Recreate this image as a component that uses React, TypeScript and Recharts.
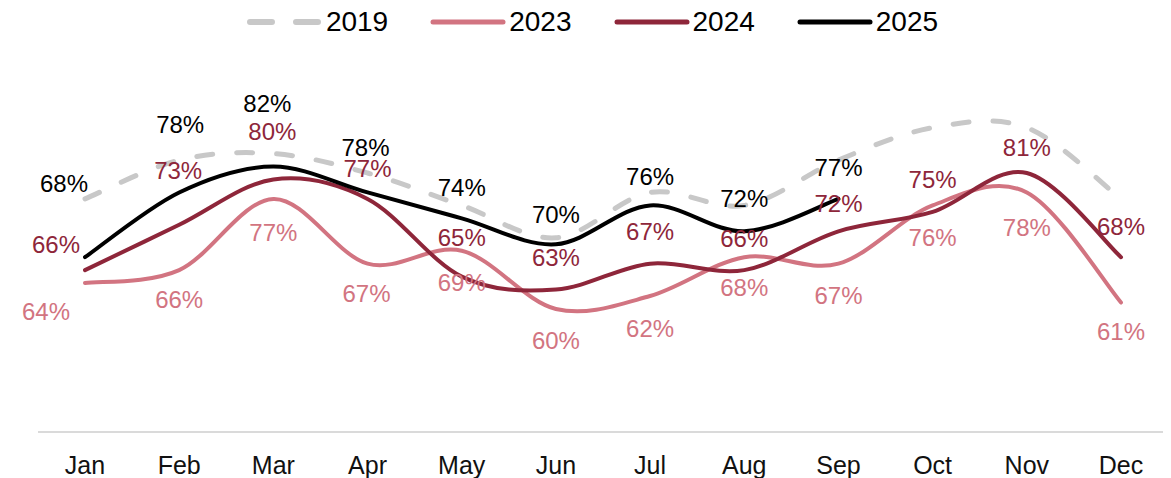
import React from 'react';
import { LineChart, Line, XAxis, YAxis } from 'recharts';

const months = ['Jan', 'Feb', 'Mar', 'Apr', 'May', 'Jun', 'Jul', 'Aug', 'Sep', 'Oct', 'Nov', 'Dec'];

const values2019 = [77, 83, 84, 81, 76, 71, 78, 76, 83, 88, 88, 77];
const values2023 = [64, 66, 77, 67, 69, 60, 62, 68, 67, 76, 78, 61];
const values2024 = [66, 73, 80, 77, 65, 63, 67, 66, 72, 75, 81, 68];
const values2025 = [68, 78, 82, 78, 74, 70, 76, 72, 77];

// label nudges (px)
const labelDy2023 = [28, 29, 34, 30, 32, 32, 32, 30, 32, 32, 35, 29];
const labelDx2023 = [-39, 0, 0, -1, 0, 0, 0, 0, 0, 0, 0, 0];
const labelDy2024 = [-26, -54, -48, -30, -39, -32, -32, -32, -28, -32, -26, -31];
const labelDx2024 = [-29, -1, -1, 0, 0, 0, 0, 0, 0, 0, 0, 0];
const labelDy2025 = [-74, -68, -63, -45, -31, -30, -29, -33, -31];
const labelDx2025 = [-21, 1, -6, -2, 0, 0, 0, 0, 0];

const FONT = '"Liberation Sans", Arial, sans-serif';

const data = months.map((m, i) => ({
  month: m,
  y2019: values2019[i],
  y2023: values2023[i],
  y2024: values2024[i],
  y2025: values2025[i] ?? null,
}));

const series = [
  { key: 'y2019', name: '2019', color: '#c8c8c8', dashed: true },
  { key: 'y2023', name: '2023', color: '#d27481', dashed: false },
  { key: 'y2024', name: '2024', color: '#8e263a', dashed: false },
  { key: 'y2025', name: '2025', color: '#000000', dashed: false },
];

// Excel-style smoothing (Catmull-Rom through the points)
function smoothCurve(context: any) {
  let pts: number[][] = [];
  return {
    areaStart() {},
    areaEnd() {},
    lineStart() {
      pts = [];
    },
    point(x: number, y: number) {
      pts.push([+x, +y]);
    },
    lineEnd() {
      const n = pts.length;
      if (!n) return;
      context.moveTo(pts[0][0], pts[0][1]);
      for (let i = 0; i < n - 1; i++) {
        const p0 = pts[i - 1] || pts[i];
        const p1 = pts[i];
        const p2 = pts[i + 1];
        const p3 = pts[i + 2] || p2;
        context.bezierCurveTo(
          p1[0] + (p2[0] - p0[0]) / 6,
          p1[1] + (p2[1] - p0[1]) / 6,
          p2[0] - (p3[0] - p1[0]) / 6,
          p2[1] - (p3[1] - p1[1]) / 6,
          p2[0],
          p2[1]
        );
      }
    },
  };
}

function makeLabel(color: string, dx: number[], dy: number[]) {
  return (props: any) => {
    const { x, y, value, index } = props;
    if (value == null || x == null || y == null) return null;
    return (
      <text
        key={index}
        x={x + (dx[index] || 0)}
        y={y + (dy[index] || 0)}
        fill={color}
        fontSize={24}
        fontFamily={FONT}
        textAnchor="middle"
        dominantBaseline="central"
      >
        {value}%
      </text>
    );
  };
}

const MonthTick = (props: any) => {
  const { x, y, payload } = props;
  return (
    <text x={x} y={y + 33} fill="#111" fontSize={25} fontFamily={FONT} textAnchor="middle" dominantBaseline="central">
      {payload.value}
    </text>
  );
};

function LegendRow() {
  return (
    <div
      style={{
        position: 'absolute',
        top: 0,
        left: 3,
        width: 1163,
        height: 27,
        display: 'flex',
        justifyContent: 'center',
        alignItems: 'center',
        fontFamily: FONT,
        fontSize: 28,
        color: '#000',
        gap: 42,
      }}
    >
      {series.map((s) => (
        <div key={s.key} style={{ display: 'flex', alignItems: 'center', gap: 3 }}>
          <svg width={76} height={10}>
            <line
              x1={3}
              y1={5}
              x2={73}
              y2={5}
              stroke={s.color}
              strokeWidth={s.dashed ? 6 : 5}
              strokeLinecap="round"
              strokeDasharray={s.dashed ? '22 24' : undefined}
            />
          </svg>
          <span style={{ lineHeight: '27px' }}>{s.name}</span>
        </div>
      ))}
    </div>
  );
}

export default function App() {
  return (
    <div style={{ position: 'relative', width: 1163, height: 470 }}>
      <LegendRow />
      <LineChart width={1163} height={470} data={data} margin={{ top: 42, right: 3, left: 30, bottom: 16 }}>
        <XAxis
          dataKey="month"
          height={30}
          padding={{ left: 47, right: 47 }}
          axisLine={{ stroke: '#dadada', strokeWidth: 2 }}
          tickLine={false}
          tickSize={0}
          tickMargin={0}
          tick={<MonthTick />}
          interval={0}
        />
        <YAxis hide domain={[41, 100]} />
        <Line
          dataKey="y2019"
          type={smoothCurve as any}
          stroke="#c8c8c8"
          strokeWidth={5}
          strokeDasharray="16 24"
          strokeLinecap="round"
          dot={false}
          activeDot={false}
          isAnimationActive={false}
        />
        <Line
          dataKey="y2023"
          type={smoothCurve as any}
          stroke="#d27481"
          strokeWidth={4}
          strokeLinecap="round"
          dot={false}
          activeDot={false}
          label={makeLabel('#d27481', labelDx2023, labelDy2023)}
          isAnimationActive={false}
        />
        <Line
          dataKey="y2024"
          type={smoothCurve as any}
          stroke="#8e263a"
          strokeWidth={4}
          strokeLinecap="round"
          dot={false}
          activeDot={false}
          label={makeLabel('#8e263a', labelDx2024, labelDy2024)}
          isAnimationActive={false}
        />
        <Line
          dataKey="y2025"
          type={smoothCurve as any}
          stroke="#000000"
          strokeWidth={4}
          strokeLinecap="round"
          dot={false}
          activeDot={false}
          label={makeLabel('#000000', labelDx2025, labelDy2025)}
          isAnimationActive={false}
        />
      </LineChart>
    </div>
  );
}
